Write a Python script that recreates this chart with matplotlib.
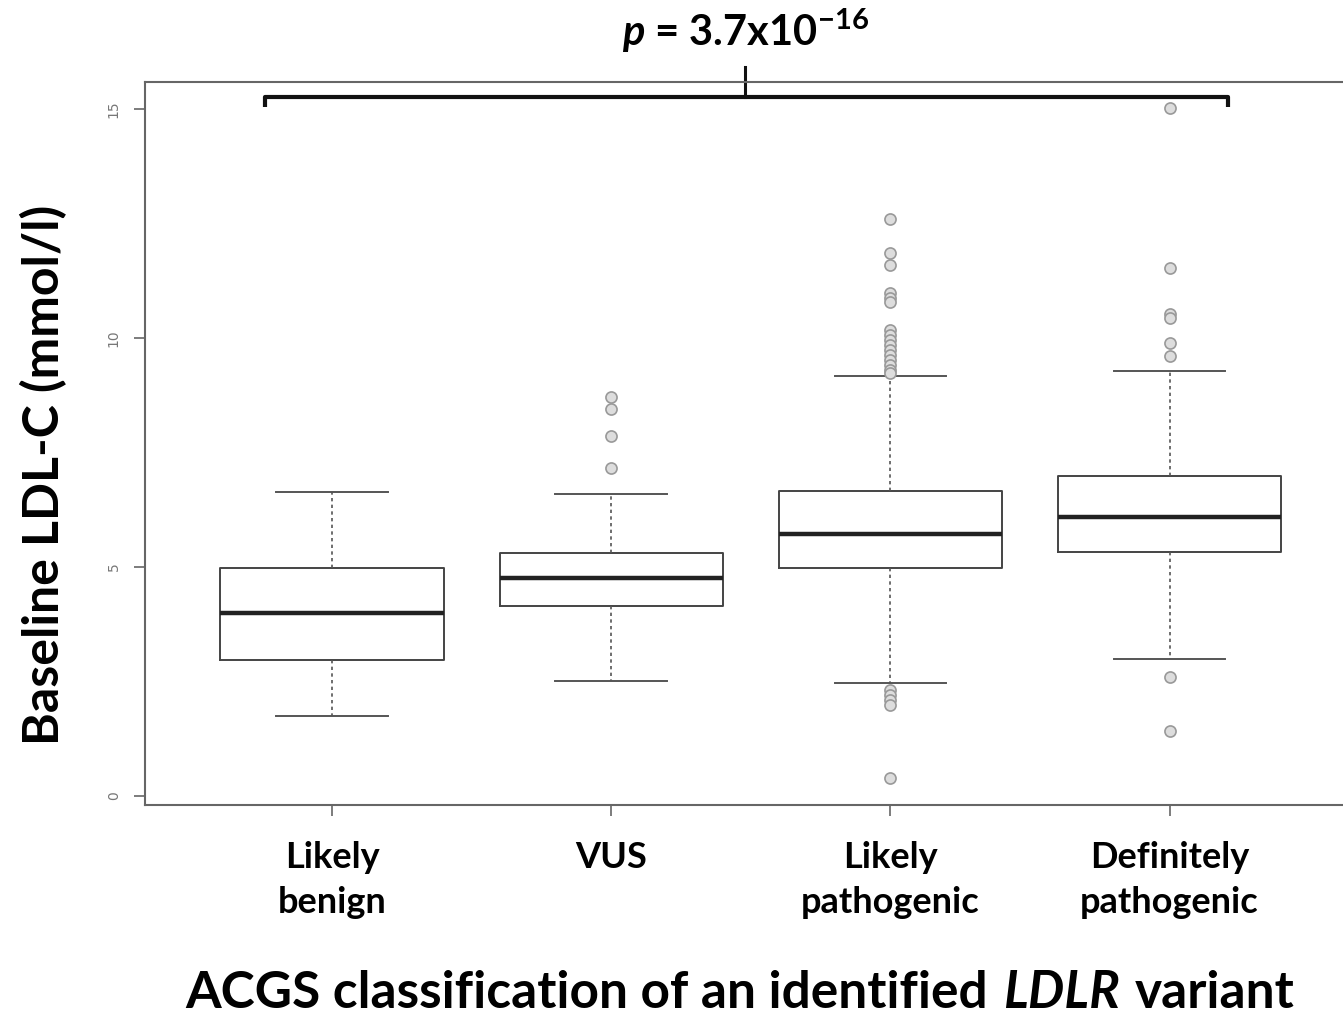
import matplotlib.pyplot as plt
from matplotlib.offsetbox import TextArea, HPacker, AnchoredOffsetbox

plt.rcParams['font.family'] = ['Lato', 'DejaVu Sans']
plt.rcParams['mathtext.fontset'] = 'custom'
plt.rcParams['mathtext.rm'] = 'Lato:bold'
plt.rcParams['mathtext.it'] = 'Lato:bold:italic'

# Data (mmol/l)
categories = ['Likely\nbenign', 'VUS', 'Likely\npathogenic', 'Definitely\npathogenic']
medians = [4.00, 4.76, 5.72, 6.09]
q1 = [2.97, 4.15, 4.98, 5.33]
q3 = [4.98, 5.31, 6.66, 6.99]
whisker_low = [1.75, 2.51, 2.47, 2.99]
whisker_high = [6.64, 6.59, 9.17, 9.28]
outliers = [
    [],
    [8.71, 8.45, 7.86, 7.16],
    [12.60, 11.86, 11.59, 10.98, 10.87, 10.79, 10.17, 10.07, 9.96, 9.85,
     9.74, 9.63, 9.52, 9.41, 9.30, 9.24, 2.31, 2.20, 2.10, 1.99, 0.39],
    [15.02, 11.53, 10.52, 10.44, 9.89, 9.61, 2.60, 1.42],
]
p_label = r'$\it{p}$ = 3.7x10$^{\mathrm{-16}}$'

stats = []
for i in range(len(categories)):
    stats.append({'med': medians[i], 'q1': q1[i], 'q3': q3[i],
                  'whislo': whisker_low[i], 'whishi': whisker_high[i],
                  'fliers': outliers[i]})

fig = plt.figure(figsize=(13.43, 10.19), dpi=100)
ax = fig.add_axes([0.108, 0.21, 0.9, 0.7095])

ax.bxp(stats, positions=[1, 2, 3, 4], widths=0.8, showfliers=True,
       boxprops=dict(color='#444444', linewidth=1.4),
       medianprops=dict(color='#222222', linewidth=3.2),
       whiskerprops=dict(color='#555555', linewidth=1.2, linestyle=(0, (2, 2))),
       capprops=dict(color='#555555', linewidth=1.4),
       flierprops=dict(marker='o', markersize=8, markerfacecolor='#dddddd',
                       markeredgecolor='#999999', markeredgewidth=1.2))

ax.set_xlim(0.33, 4.66)
ax.set_ylim(-0.2, 15.59)
ax.set_yticks([0, 5, 10, 15])
ax.set_yticklabels(['0', '5', '10', '15'], rotation=90, va='center',
                   fontsize=10, color='#777777', family='DejaVu Sans')
ax.tick_params(axis='y', length=8, width=1.2, color='#666666', pad=9.5)
ax.set_xticks([1, 2, 3, 4])
ax.set_xticklabels(categories, fontsize=26, fontweight='bold',
                   linespacing=1.45)
ax.tick_params(axis='x', length=8, width=1.2, color='#666666', pad=18)
for s in ax.spines.values():
    s.set_color('#666666')
    s.set_linewidth(1.5)

ax.set_ylabel('Baseline LDL-C (mmol/l)', fontsize=36, fontweight='bold')
ax.yaxis.set_label_coords(-0.0645, 0.456)

# x axis label with italic gene name
parts = [TextArea('ACGS classification of an identified',
                  textprops=dict(fontsize=37, fontweight='bold')),
         TextArea('LDLR', textprops=dict(fontsize=37, fontweight='bold',
                                         style='italic')),
         TextArea('variant', textprops=dict(fontsize=37, fontweight='bold'))]
box = HPacker(children=parts, align='baseline', pad=0, sep=11)
anch = AnchoredOffsetbox(loc='center', child=box, frameon=False,
                         bbox_to_anchor=(740 / 1343, 1 - 993 / 1019),
                         bbox_transform=fig.transFigure, pad=0, borderpad=0)
fig.add_artist(anch)

# significance bracket
bx0, bx1, by, bdrop = 0.76, 4.21, 15.26, 0.22
ax.plot([bx0, bx0, bx1, bx1], [by - bdrop, by, by, by - bdrop],
        color='#111111', linewidth=3, clip_on=False, solid_capstyle='butt')
ax.plot([2.48, 2.48], [by, by + 0.65], color='#111111', linewidth=2.2,
        clip_on=False)
ax.text(2.48, 16.17, p_label, ha='center', va='bottom', fontsize=30,
        fontweight='bold')

fig.savefig('out.png', dpi=100)
